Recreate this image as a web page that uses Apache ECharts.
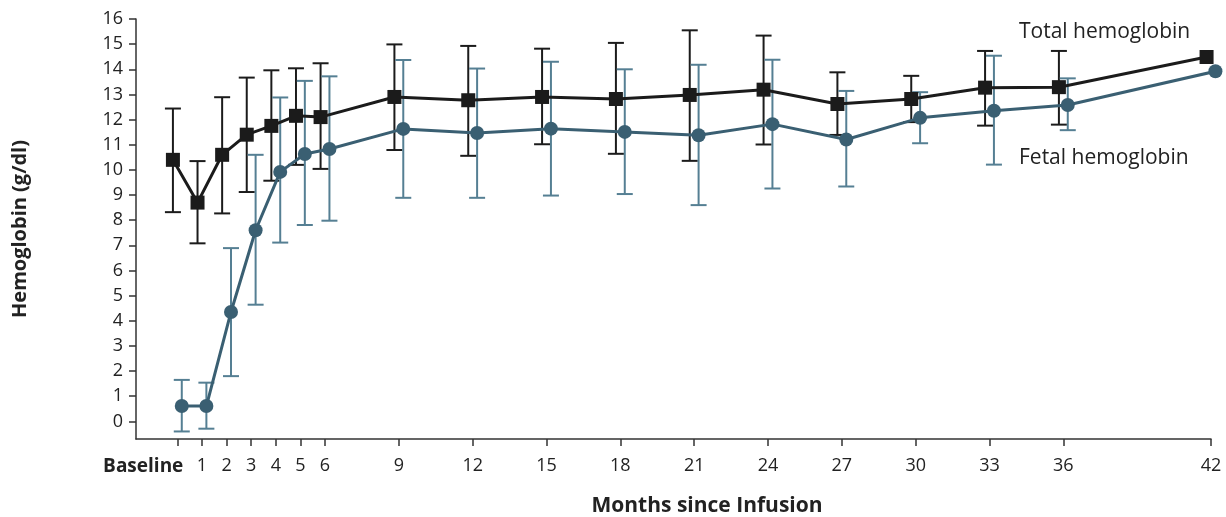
<!DOCTYPE html>
<html>
<head>
<meta charset="utf-8">
<script src="https://cdn.jsdelivr.net/npm/echarts@6/dist/echarts.min.js"></script>
<style>
html,body{margin:0;padding:0;background:#fff;}
#chart{width:1226px;height:517px;}
</style>
</head>
<body>
<div id="chart"></div>
<script>
// ---- data ----
const months = [0,1,2,3,4,5,6,9,12,15,18,21,24,27,30,33,36,42];
const xTickValues = [0,1,2,3,4,5,6,9,12,15,18,21,24,27,30,33,36,42];
const yTickValues = [0,1,2,3,4,5,6,7,8,9,10,11,12,13,14,15,16];

const totalMean = [10.4,8.7,10.6,11.4,11.75,12.15,12.1,12.9,12.77,12.9,12.82,12.98,13.19,12.62,12.82,13.27,13.29,14.49];
const totalLow  = [8.32,7.08,8.27,9.12,9.57,10.2,10.04,10.79,10.56,11.02,10.64,10.36,11.01,11.39,11.9,11.76,11.8,null];
const totalHigh = [12.44,10.35,12.89,13.67,13.96,14.04,14.24,14.99,14.93,14.82,15.05,15.55,15.34,13.88,13.74,14.73,14.73,null];

const fetalMean = [0.61,0.61,4.35,7.6,9.92,10.63,10.83,11.63,11.47,11.64,11.51,11.38,11.82,11.21,12.07,12.35,12.58,13.92];
const fetalLow  = [-0.4,-0.29,1.8,4.64,7.11,7.81,7.98,8.89,8.89,8.98,9.04,8.6,9.26,9.34,11.06,10.21,11.58,null];
const fetalHigh = [1.65,1.54,6.89,10.6,12.88,13.54,13.72,14.37,14.03,14.3,14.0,14.18,14.38,13.14,13.09,14.54,13.64,null];

const seriesNames = ['Total hemoglobin','Fetal hemoglobin'];
const xTitle = 'Months since Infusion';
const yTitle = 'Hemoglobin (g/dl)';
const baselineLabel = 'Baseline';

// ---- styling ----
const FONT = 'Open Sans';
const TEXT = '#222';
const TOTAL_COLOR = '#1b1b1b';
const FETAL_COLOR = '#3a5f72';
const FETAL_BAR_COLOR = '#557f93';
const TOTAL_SHIFT = -0.18;   // horizontal dodge so the two groups don't overlap
const FETAL_SHIFT = 0.18;

function points(mean, shift){
  return months.map((m,i)=>[m+shift, mean[i]]);
}
function bars(low, high, shift){
  const out=[];
  months.forEach((m,i)=>{ if(low[i]!=null && high[i]!=null) out.push([m+shift, low[i], high[i]]); });
  return out;
}
function errRender(color){
  return function(params, api){
    const x=api.value(0), lo=api.value(1), hi=api.value(2);
    const a=api.coord([x,lo]), b=api.coord([x,hi]);
    const w=8;
    const st={stroke:color, lineWidth:2};
    return {type:'group', children:[
      {type:'line', shape:{x1:a[0],y1:a[1],x2:b[0],y2:b[1]}, style:st},
      {type:'line', shape:{x1:a[0]-w,y1:a[1],x2:a[0]+w,y2:a[1]}, style:st},
      {type:'line', shape:{x1:b[0]-w,y1:b[1],x2:b[0]+w,y2:b[1]}, style:st}
    ]};
  };
}

const chart = echarts.init(document.getElementById('chart'), null, {renderer:'canvas'});
chart.setOption({
  backgroundColor:'#fff',
  animation:false,
  grid:{left:136, right:15, top:19, bottom:78, containLabel:false},
  xAxis:{
    type:'value', min:-1.68, max:42,
    splitLine:{show:false},
    axisLine:{show:true, onZero:false, lineStyle:{color:'#333', width:1.5}},
    axisTick:{show:true, customValues:xTickValues, length:7, lineStyle:{color:'#333', width:1.5}},
    axisLabel:{
      customValues:xTickValues, color:TEXT, fontFamily:FONT, fontSize:18, margin:18,
      showMinLabel:true, hideOverlap:false,
      formatter:function(v){ return Number(v)===0 ? '{b|'+baselineLabel+'}' : String(v); },
      rich:{
        b:{fontFamily:FONT, fontSize:19, fontWeight:'bold', color:TEXT, width:12, align:'right'}
      }
    }
  },
  yAxis:{
    type:'value', min:-0.7, max:16,
    splitLine:{show:false},
    axisLine:{show:true, onZero:false, lineStyle:{color:'#333', width:1.5}},
    axisTick:{show:true, customValues:yTickValues, length:7, lineStyle:{color:'#333', width:1.5}},
    axisLabel:{customValues:yTickValues, color:TEXT, fontFamily:FONT, fontSize:18, margin:13},
    name:yTitle, nameLocation:'middle', nameGap:106, nameRotate:90,
    nameTextStyle:{fontFamily:FONT, fontSize:20, fontWeight:'bold', color:TEXT}
  },
  series:[
    {type:'custom', name:seriesNames[0]+' range', renderItem:errRender(TOTAL_COLOR), data:bars(totalLow,totalHigh,TOTAL_SHIFT), encode:{x:0,y:[1,2]}, z:1, silent:true, clip:false},
    {type:'custom', name:seriesNames[1]+' range', renderItem:errRender(FETAL_BAR_COLOR), data:bars(fetalLow,fetalHigh,FETAL_SHIFT), encode:{x:0,y:[1,2]}, z:1, silent:true, clip:false},
    {type:'line', name:seriesNames[1], data:points(fetalMean,FETAL_SHIFT), symbol:'circle', symbolSize:14, clip:false,
      lineStyle:{color:FETAL_COLOR, width:3}, itemStyle:{color:FETAL_COLOR}, z:3},
    {type:'line', name:seriesNames[0], data:points(totalMean,TOTAL_SHIFT), symbol:'rect', symbolSize:14, clip:false,
      lineStyle:{color:TOTAL_COLOR, width:3}, itemStyle:{color:TOTAL_COLOR}, z:4}
  ],
  graphic:[
    {type:'text', left:1019, top:22, style:{text:seriesNames[0], fontFamily:FONT, fontSize:21, fill:TEXT}},
    {type:'text', left:1019, top:148, style:{text:seriesNames[1], fontFamily:FONT, fontSize:21, fill:TEXT}},
    {type:'text', x:707, y:506, style:{text:xTitle, fontFamily:FONT, fontSize:21, fontWeight:'bold', fill:TEXT, align:'center', verticalAlign:'middle'}}
  ]
});
</script>
</body>
</html>
